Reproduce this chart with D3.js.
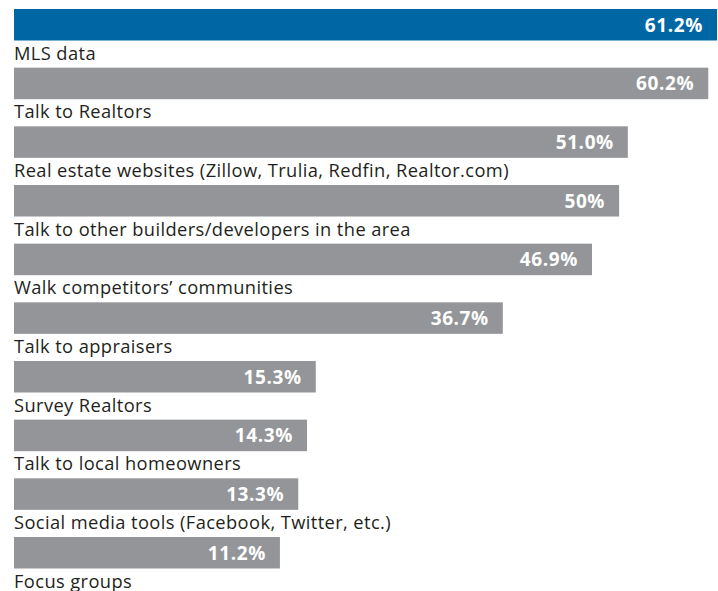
<!DOCTYPE html>
<html lang="en">
<head>
<meta charset="UTF-8">
<title>market research sources</title>
<script src="https://cdn.jsdelivr.net/npm/d3@7"></script>
<style>
    body { margin: 0; background: #fff; }
    #chart { width: 718px; height: 591px; }
    .cat { font-family: "Open Sans", sans-serif; font-size: 18.3px; letter-spacing: 0.4px; fill: #231f20; }
    .val { font-family: "Open Sans", sans-serif; font-size: 19px; font-weight: 700; letter-spacing: 0.6px; fill: #fff; }
</style>
</head>
<body>
<div id="chart"></div>
<script>
    // categories and values
    let categories = [
        "MLS data",
        "Talk to Realtors",
        "Real estate websites (Zillow, Trulia, Redfin, Realtor.com)",
        "Talk to other builders/developers in the area",
        "Walk competitors\u2019 communities",
        "Talk to appraisers",
        "Survey Realtors",
        "Talk to local homeowners",
        "Social media tools (Facebook, Twitter, etc.)",
        "Focus groups"
    ];
    let values = [61.2, 60.2, 51.0, 50, 46.9, 36.7, 15.3, 14.3, 13.3, 11.2];
    let valueLabels = ["61.2%", "60.2%", "51.0%", "50%", "46.9%", "36.7%", "15.3%", "14.3%", "13.3%", "11.2%"];

    let draw = () => {
        let svg = d3.select("#chart").append("svg")
            .attr("width", 718)
            .attr("height", 591);

        let barLeft = 14;

        // bars start at a fixed left edge, the scale's zero sits further in
        let x = d3.scaleLinear()
            .domain([0, 61.2])
            .range([182, 717]);

        let y = d3.scaleBand()
            .domain(categories)
            .range([9, 568.5])
            .paddingInner(0.463)
            .paddingOuter(0);

        let rows = svg.selectAll(".row")
            .data(categories)
            .enter()
            .append("g")
            .attr("class", "row");

        rows.append("rect")
            .attr("x", barLeft)
            .attr("y", d => y(d))
            .attr("width", (d, i) => x(values[i]) - barLeft)
            .attr("height", y.bandwidth())
            .attr("fill", (d, i) => i === 0 ? "#0067a5" : "#939598");

        rows.append("text")
            .attr("class", "val")
            .attr("x", (d, i) => x(values[i]) - 14)
            .attr("y", d => y(d) + y.bandwidth() / 2 + 7)
            .attr("text-anchor", "end")
            .text((d, i) => valueLabels[i]);

        rows.append("text")
            .attr("class", "cat")
            .attr("x", barLeft)
            .attr("y", d => y(d) + y.bandwidth() + 19)
            .text(d => d);
    }
    draw();
</script>
</body>
</html>
